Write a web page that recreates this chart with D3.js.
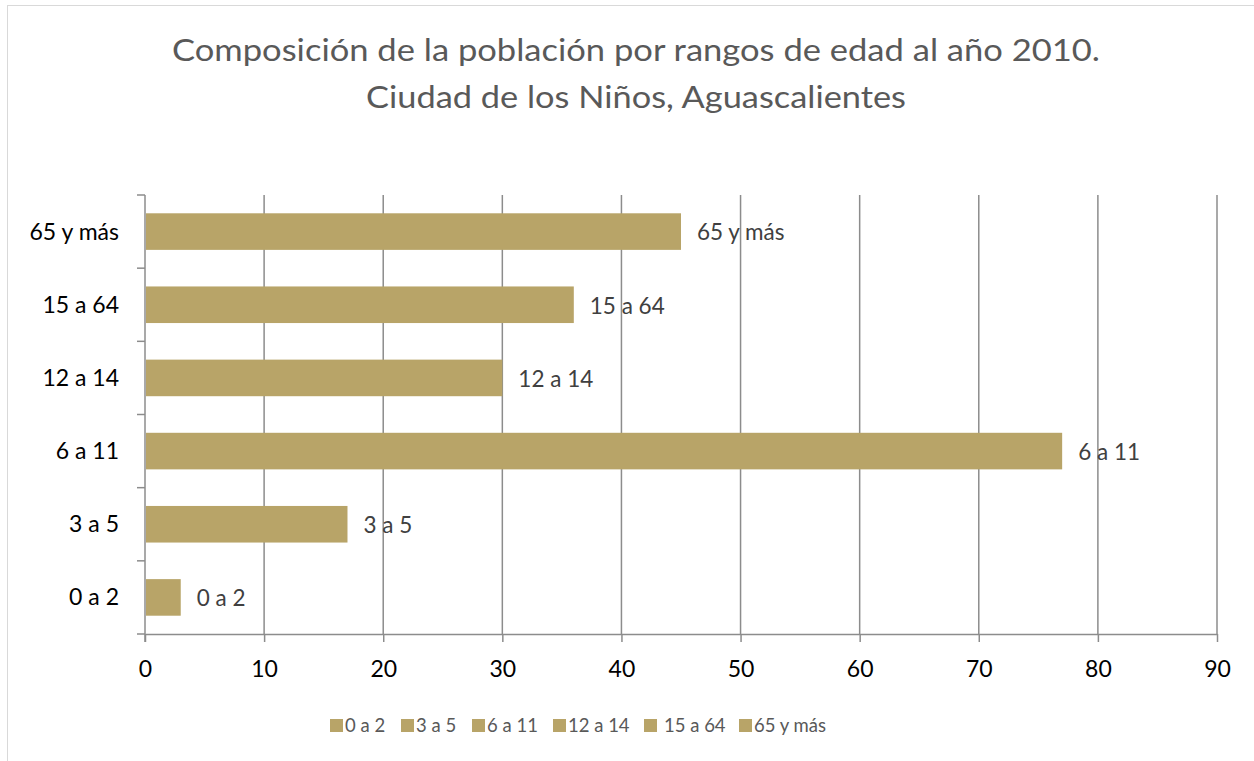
<!DOCTYPE html>
<html><head><meta charset="utf-8">
<script src="https://cdn.jsdelivr.net/npm/d3@7"></script>
<style>body{margin:0;background:#fff}svg{display:block}</style>
</head><body>
<svg id="c" width="1254" height="761"></svg>
<script>
const categories = ["0 a 2","3 a 5","6 a 11","12 a 14","15 a 64","65 y más"];
const values = [3,17,77,30,36,45];
const xTicks = [0,10,20,30,40,50,60,70,80,90];
const titleLines = ["Composición de la población por rangos de edad al año 2010.","Ciudad de los Niños, Aguascalientes"];

const svg = d3.select("#c");
const FONT = "Lato, 'Open Sans', sans-serif";
const barColor = "#B8A468";
const gridColor = "#8c8c8c";

svg.append("rect").attr("x",7.5).attr("y",5.5).attr("width",1260).attr("height",770)
  .attr("fill","#fff").attr("stroke","#d9d9d9").attr("stroke-width",1);

const m = {l:145, r:1217, t:195, b:634};
const x = d3.scaleLinear().domain([0,90]).range([m.l,m.r]);
const y = d3.scaleBand().domain(categories.slice().reverse()).range([m.t,m.b]).paddingInner(0.5).paddingOuter(0.25);

// title
svg.append("g").selectAll("text").data(titleLines).join("text")
  .attr("x",636).attr("y",(d,i)=>61+i*47).attr("text-anchor","middle")
  .attr("font-family",FONT).attr("font-weight",400).attr("font-size",31).attr("fill","#595959")
  .attr("textLength",(d,i)=> i===0 ? 928 : 540).attr("lengthAdjust","spacingAndGlyphs")
  .text(d=>d);

// gridlines
svg.append("g").selectAll("line").data(xTicks.slice(1)).join("line")
  .attr("x1",d=>x(d)).attr("x2",d=>x(d)).attr("y1",m.t).attr("y2",m.b)
  .attr("stroke",gridColor).attr("stroke-width",1.5);

// x axis
const xa = svg.append("g").attr("transform",`translate(0,${m.b})`)
  .call(d3.axisBottom(x).tickValues(xTicks).tickSize(8).tickPadding(19).tickSizeOuter(0));
xa.select(".domain").attr("stroke",gridColor).attr("stroke-width",1.5);
xa.selectAll(".tick line").attr("stroke",gridColor).attr("stroke-width",1.5);
xa.selectAll("text").attr("font-family",FONT).attr("font-size",23).attr("fill","#000");

// y axis with ticks between categories
const yBound = d3.range(categories.length+1).map(i=>m.t + i*(m.b-m.t)/categories.length);
const ya = svg.append("g");
ya.append("line").attr("x1",m.l).attr("x2",m.l).attr("y1",m.t).attr("y2",m.b+8)
  .attr("stroke",gridColor).attr("stroke-width",1.5);
ya.selectAll("line.t").data(yBound).join("line").attr("class","t")
  .attr("x1",m.l-8).attr("x2",m.l).attr("y1",d=>d).attr("y2",d=>d)
  .attr("stroke",gridColor).attr("stroke-width",1.5);
ya.selectAll("text").data(categories).join("text")
  .attr("x",119).attr("y",d=>y(d)+y.bandwidth()/2).attr("dy","0.35em")
  .attr("text-anchor","end").attr("font-family",FONT).attr("font-size",23).attr("fill","#000")
  .text(d=>d);

// bars
const data = categories.map((c,i)=>({c, v:values[i]}));
svg.append("g").selectAll("rect").data(data).join("rect")
  .attr("x",x(0)+1).attr("y",d=>y(d.c)).attr("width",d=>x(d.v)-x(0)-1).attr("height",y.bandwidth())
  .attr("fill",barColor);

// data labels
svg.append("g").selectAll("text").data(data).join("text")
  .attr("x",d=>x(d.v)+16).attr("y",d=>y(d.c)+y.bandwidth()/2+1).attr("dy","0.35em")
  .attr("font-family",FONT).attr("font-size",22.5).attr("fill","#404040")
  .text(d=>d.c);

// legend
const legX = [330,401,472,553,644,739];
const lg = svg.append("g").selectAll("g").data(categories).join("g")
  .attr("transform",(d,i)=>`translate(${legX[i]},726)`);
lg.append("rect").attr("x",0).attr("y",-7).attr("width",13).attr("height",13).attr("fill",barColor);
lg.append("text").attr("x",(d,i)=> i===4 ? 20 : 15).attr("y",0).attr("dy","0.35em")
  .attr("font-family",FONT).attr("font-size",18.5).attr("fill","#595959").text(d=>d);
</script>
</body></html>
